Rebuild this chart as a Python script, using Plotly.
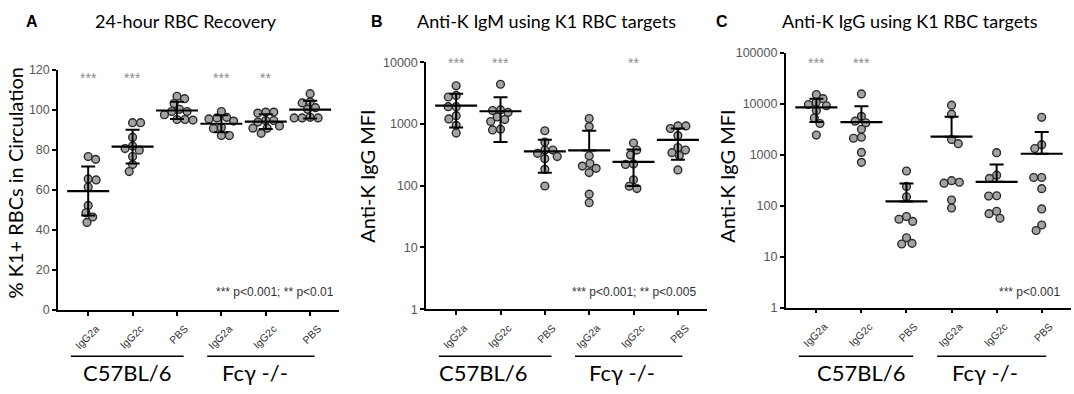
import numpy as np
import plotly.graph_objects as go

W, H = 1074, 394

# ---------------- data ----------------
categories = ["IgG2a", "IgG2c", "PBS", "IgG2a", "IgG2c", "PBS"]
strain_labels = ["C57BL/6", "Fcγ -/-"]

# Panel A: % K1+ RBCs in circulation (24 h)
a_b6_igg2a = [76.6, 75.2, 65.4, 64.9, 61.4, 52.2, 48.5, 46.4, 43.7]
a_b6_igg2c = [93.5, 93.5, 86.3, 81.9, 80.6, 79.8, 76.6, 72.6, 69.1]
a_b6_pbs = [106.7, 105.5, 103.1, 99.1, 99.1, 100.2, 97.5, 94.8, 95.1, 95.1]
a_ko_igg2a = [99.1, 96.2, 95.9, 95.4, 94.3, 91.1, 90.6, 87.1, 87.1]
a_ko_igg2c = [98.8, 98.8, 98.3, 94.6, 94.6, 93.8, 91.9, 90.8, 90.8, 88.2]
a_ko_pbs = [108.0, 103.9, 103.4, 101.0, 100.2, 96.2, 95.9, 95.9, 95.9]

# Panel B: anti-K IgM MFI
b_b6_igg2a = [4159, 2900, 2738, 1910, 1910, 1362, 1210, 951, 713]
b_b6_igg2c = [4400, 1690, 1650, 1540, 1300, 1180, 1097, 824, 800]
b_b6_pbs = [777, 510, 378, 378, 335, 297, 274, 184, 99]
b_ko_igg2a = [1224, 907, 305, 229, 208, 191, 163, 73, 53]
b_ko_igg2c = [492, 378, 316, 225, 221, 125, 98, 90]
b_ko_pbs = [931, 931, 845, 649, 416, 378, 343, 308, 180]

# Panel C: anti-K IgG MFI
c_b6_igg2a = [15060, 12480, 10490, 9620, 9080, 7310, 5220, 4080, 2420]
c_b6_igg2c = [15520, 5630, 4530, 4210, 3140, 2190, 2094, 1106, 706]
c_b6_pbs = [477, 238, 149, 61, 54, 49, 23.4, 18.2, 17.7]
c_ko_igg2a = [9330, 6220, 1980, 1636, 309, 287, 275, 129, 90]
c_ko_igg2c = [1091, 396, 341, 156, 154, 77.6, 69.4, 56.5]
c_ko_pbs = [5390, 1566, 1315, 356, 356, 215, 86, 41.7, 32.5]

sig_a = ["***", "***", "", "***", "**", ""]
sig_b = ["***", "***", "", "", "**", ""]
sig_c = ["***", "***", "", "", "", ""]

titles = ["24-hour RBC Recovery", "Anti-K IgM using K1 RBC targets", "Anti-K IgG using K1 RBC targets"]
letters = ["A", "B", "C"]
ylabels = ["% K1+ RBCs in Circulation", "Anti-K IgG MFI", "Anti-K IgG MFI"]
notes = ["*** p<0.001; ** p<0.01", "*** p<0.001; ** p<0.005", "*** p<0.001"]

a_ticks = [0, 20, 40, 60, 80, 100, 120]
b_ticks = [1, 10, 100, 1000, 10000]
c_ticks = [1, 10, 100, 1000, 10000, 100000]

# ---------------- layout geometry (pixels) ----------------
panels = [
    dict(data=[a_b6_igg2a, a_b6_igg2c, a_b6_pbs, a_ko_igg2a, a_ko_igg2c, a_ko_pbs],
         sig=sig_a, log=False, ticks=a_ticks, yr=[0, 120], star_y=116,
         xpx=(58, 339), ypx=(314, 65), title_x=186, letter_x=32, ylab=(15, 183),
         note_x=336, note_y=295, b6_lab=0.88),
    dict(data=[b_b6_igg2a, b_b6_igg2c, b_b6_pbs, b_ko_igg2a, b_ko_igg2c, b_ko_pbs],
         sig=sig_b, log=True, ticks=b_ticks, yr=[0, 4], star_y=3.99,
         xpx=(426, 706.7), ypx=(313.3, 57.3), title_x=546, letter_x=377, ylab=(367, 176),
         note_x=698, note_y=295, b6_lab=0.6),
    dict(data=[c_b6_igg2a, c_b6_igg2c, c_b6_pbs, c_ko_igg2a, c_ko_igg2c, c_ko_pbs],
         sig=sig_c, log=True, ticks=c_ticks, yr=[0, 5], star_y=4.8,
         xpx=(785.7, 1071), ypx=(311.7, 47.3), title_x=910, letter_x=722, ylab=(727, 176),
         note_x=1062, note_y=296, b6_lab=0.99),
]
XR = [-0.68, 5.65]

ARIAL = "Liberation Sans, Arial, sans-serif"
HUMAN = "Lato, Open Sans, sans-serif"


def swarm(vals, log, px_per_unit, px_per_cat, d=8.0):
    yv = np.log10(vals) if log else np.asarray(vals, float)
    ypx = yv * px_per_unit
    order = np.argsort(-ypx, kind="stable")
    placed = []
    xs = np.zeros(len(vals))
    for n, i in enumerate(order):
        y = ypx[i]
        cands = [0.0]
        for (px, py) in placed:
            dy = abs(py - y)
            if dy < d:
                dx = np.sqrt(d * d - dy * dy)
                cands += [px - dx, px + dx]
        ok = [c for c in cands
              if all((c - px) ** 2 + (y - py) ** 2 >= d * d - 1e-6 for px, py in placed)]
        sgn = 1 if n % 2 == 0 else -1
        best = min(ok, key=lambda c: (round(abs(c), 3), sgn * c))
        placed.append((best, y))
        xs[i] = best
    return xs / px_per_cat


fig = go.Figure()
annotations = []
shapes = []
layout = {}

for p, P in enumerate(panels):
    sfx = "" if p == 0 else str(p + 1)
    xa, ya = "x" + sfx, "y" + sfx
    x0, x1 = P["xpx"]
    yb, yt = P["ypx"]
    xdom = [x0 / W, x1 / W]
    ydom = [(H - yb) / H, (H - yt) / H]
    px_cat = (x1 - x0) / (XR[1] - XR[0])
    px_unit = (yb - yt) / (P["yr"][1] - P["yr"][0])

    layout["xaxis" + sfx] = dict(
        domain=xdom, anchor=ya, range=XR, tickvals=list(range(6)), ticktext=categories,
        tickangle=-45, tickfont=dict(family=ARIAL, size=10.5, color="#333"),
        ticklabelshift=8, ticklabelstandoff=3,
        ticks="outside", ticklen=4, tickwidth=1.5, tickcolor="black",
        showline=True, linecolor="black", linewidth=1.5, showgrid=False, zeroline=False,
        fixedrange=True)
    yax = dict(
        domain=ydom, anchor=xa, range=P["yr"], tickvals=P["ticks"],
        ticktext=[str(t) for t in P["ticks"]],
        ticks="outside", ticklen=4, tickwidth=1.5, tickcolor="black",
        tickfont=dict(family=ARIAL, size=12.5, color="#555"),
        showline=True, linecolor="black", linewidth=1.5, showgrid=False, zeroline=False,
        fixedrange=True)
    if P["log"]:
        yax["type"] = "log"
    layout["yaxis" + sfx] = yax

    for g, vals in enumerate(P["data"]):
        offs = swarm(vals, P["log"], px_unit, px_cat)
        fig.add_trace(go.Scatter(
            x=g + offs, y=vals, mode="markers", xaxis=xa, yaxis=ya,
            marker=dict(size=7.8, color="#a3a3a3", line=dict(width=1.4, color="#2a2a2a")),
            hoverinfo="skip", showlegend=False))
        m = float(np.mean(vals))
        sd = float(np.std(vals, ddof=1))
        minus = sd if (not P["log"] or m - sd > 0) else 0.0
        fig.add_trace(go.Scatter(
            x=[g], y=[m], mode="markers", xaxis=xa, yaxis=ya,
            marker=dict(symbol="line-ew", size=30, color="black",
                        line=dict(width=2.2, color="black")),
            error_y=dict(type="data", symmetric=False, array=[sd], arrayminus=[minus],
                         thickness=2, width=7, color="black"),
            hoverinfo="skip", showlegend=False))

        if P["sig"][g]:
            annotations.append(dict(
                x=g, y=P["star_y"], xref=xa, yref=ya, text=P["sig"][g], showarrow=False,
                font=dict(family=ARIAL, size=14, color="#8c8c8c"), xanchor="center", yanchor="middle"))

    for (s0, s1) in [(-0.39, 2.15), (2.68, 5.1)]:
        shapes.append(dict(type="line", xref=xa, yref="paper", x0=s0, x1=s1,
                           y0=(H - 362) / H, y1=(H - 362) / H,
                           line=dict(color="black", width=1.5)))
    for lab, cx in zip(strain_labels, [P["b6_lab"], 3.75]):
        annotations.append(dict(
            x=cx, y=(H - 379) / H, xref=xa, yref="paper", text=lab, showarrow=False,
            font=dict(family=HUMAN, size=22, color="black"), xanchor="center", yanchor="middle"))

    annotations.append(dict(x=P["title_x"] / W, y=(H - 15) / H, xref="paper", yref="paper",
                            text=titles[p], showarrow=False, xanchor="center", yanchor="middle",
                            font=dict(family=HUMAN, size=18, color="black")))
    annotations.append(dict(x=P["letter_x"] / W, y=(H - 15) / H, xref="paper", yref="paper",
                            text="<b>" + letters[p] + "</b>", showarrow=False,
                            xanchor="center", yanchor="middle",
                            font=dict(family=ARIAL, size=16, color="black")))
    annotations.append(dict(x=P["ylab"][0] / W, y=(H - P["ylab"][1]) / H, xref="paper",
                            yref="paper", text=ylabels[p], showarrow=False, textangle=-90,
                            xanchor="center", yanchor="middle",
                            font=dict(family=HUMAN, size=20, color="black")))
    annotations.append(dict(x=P["note_x"] / W, y=(H - P["note_y"]) / H, xref="paper",
                            yref="paper", text=notes[p], showarrow=False,
                            xanchor="right", yanchor="middle",
                            font=dict(family=ARIAL, size=12, color="#333")))

fig.update_layout(
    width=W, height=H, margin=dict(l=0, r=0, t=0, b=0),
    paper_bgcolor="white", plot_bgcolor="white",
    annotations=annotations, shapes=shapes, showlegend=False, **layout)

fig.write_html("out.html", config={"displayModeBar": False},
               post_script="document.body.style.margin='0';")
